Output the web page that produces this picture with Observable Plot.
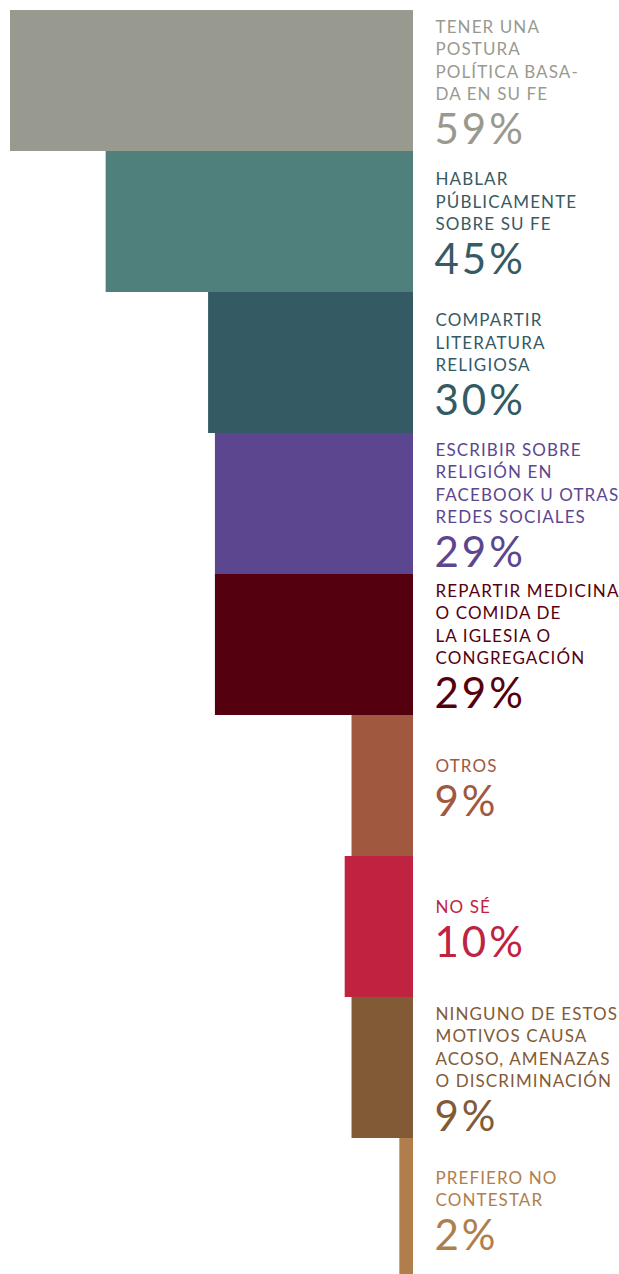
<!DOCTYPE html>
<html>
<head>
<meta charset="utf-8">
<script src="https://cdn.jsdelivr.net/npm/d3@7"></script>
<script src="https://cdn.jsdelivr.net/npm/@observablehq/plot@0.6"></script>
<style>
  html, body { margin: 0; padding: 0; overflow: hidden; background: #ffffff; }
  #chart svg { display: block; }
  #chart g[font-size="17"] { letter-spacing: 1.1px; }
  #chart g[font-size="42"] { letter-spacing: 3px; }
</style>
</head>
<body>
<div id="chart"></div>
<script>
const categories = [
  "TENER UNA\nPOSTURA\nPOLÍTICA BASA-\nDA EN SU FE",
  "HABLAR\nPÚBLICAMENTE\nSOBRE SU FE",
  "COMPARTIR\nLITERATURA\nRELIGIOSA",
  "ESCRIBIR SOBRE\nRELIGIÓN EN\nFACEBOOK U OTRAS\nREDES SOCIALES",
  "REPARTIR MEDICINA\nO COMIDA DE\nLA IGLESIA O\nCONGREGACIÓN",
  "OTROS",
  "NO SÉ",
  "NINGUNO DE ESTOS\nMOTIVOS CAUSA\nACOSO, AMENAZAS\nO DISCRIMINACIÓN",
  "PREFIERO NO\nCONTESTAR"
];
const values = [59, 45, 30, 29, 29, 9, 10, 9, 2];
const valueLabels = ["59%", "45%", "30%", "29%", "29%", "9%", "10%", "9%", "2%"];
const barColors = ["#999a8f", "#50807c", "#345a64", "#5c4690", "#54000e", "#a0583e", "#c0233f", "#825a36", "#b07e4c"];
const textColors = ["#999a8f", "#375a63", "#345a64", "#5c4690", "#54000e", "#a0583e", "#c0233f", "#825a36", "#b07e4c"];

const data = categories.map((c, i) => ({
  cat: c,
  value: values[i],
  pct: valueLabels[i],
  bar: barColors[i],
  ink: textColors[i],
  lines: c.split("\n").length
}));

const step = 141;
const top0 = 10;

const marks = [
  Plot.barX(data, {x: "value", y: "cat", fill: "bar", inset: 0})
];
for (const n of [1, 2, 3, 4]) {
  const sub = data.filter(d => d.lines === n);
  marks.push(
    Plot.text(sub, {
      x: () => 0, y: "cat", text: "cat", fill: "ink",
      dx: 22, dy: 11 * n - 25,
      textAnchor: "start", lineAnchor: "bottom",
      fontSize: 17, lineHeight: 22.5 / 17
    }),
    Plot.text(sub, {
      x: () => 0, y: "cat", text: "pct", fill: "ink",
      dx: 21, dy: 11 * n + 19,
      textAnchor: "start", lineAnchor: "bottom",
      fontSize: 42
    })
  );
}

const chart = Plot.plot({
  width: 619,
  height: 1274,
  margin: 0,
  style: {fontFamily: "Lato", background: "#ffffff"},
  x: {domain: [0, 59], range: [413, 10], axis: null},
  y: {type: "band", domain: categories, range: [top0, top0 + step * categories.length], padding: 0, axis: null},
  color: {type: "identity"},
  marks
});
document.getElementById("chart").appendChild(chart);
</script>
</body>
</html>
